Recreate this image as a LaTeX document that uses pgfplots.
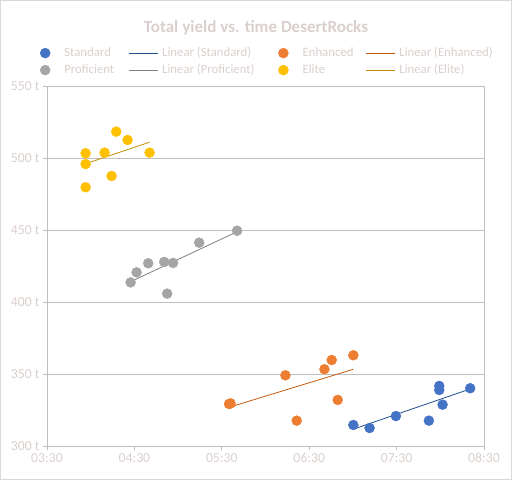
\documentclass[border=0pt]{standalone}
\usepackage{fontspec}
\setmainfont{Carlito}
\usepackage{pgfplots}
\pgfplotsset{compat=1.18}
\definecolor{txt}{HTML}{D9D0CD}
\definecolor{gridc}{HTML}{BFBFBF}
\definecolor{frame}{HTML}{D9D9D9}
\definecolor{cstd}{HTML}{4472C4}
\definecolor{cenh}{HTML}{ED7D31}
\definecolor{cpro}{HTML}{A5A5A5}
\definecolor{celi}{HTML}{FFC000}
\definecolor{tstd}{HTML}{1F4E8C}
\definecolor{tenh}{HTML}{C55A11}
\definecolor{tpro}{HTML}{7F7F7F}
\definecolor{teli}{HTML}{BF9000}
\pgfplotsset{
  dotleg/.style={legend image code/.code={\path (-8bp,0bp) (19bp,0bp); \draw[##1] plot coordinates {(0bp,0bp)};}},
  lineleg/.style={legend image code/.code={\path (0bp,0bp) (33bp,0bp); \draw[##1] (0bp,0bp) -- (29bp,0bp);}},
}
\begin{document}
\begin{tikzpicture}[x=1bp,y=1bp]
\useasboundingbox (0,0) rectangle (512,480);
\draw[frame, line width=1bp] (0.5,0.5) rectangle (511.5,479.5);
\begin{axis}[
  at={(47bp,34bp)}, anchor=south west, scale only axis,
  width=437bp, height=360bp,
  xmin=3.5, xmax=8.5, ymin=300, ymax=550,
  xtick={3.5,4.5,5.5,6.5,7.5,8.5},
  xticklabels={03:30,04:30,05:30,06:30,07:30,08:30},
  ytick={300,350,400,450,500,550},
  yticklabels={300 t,350 t,400 t,450 t,500 t,550 t},
  ymajorgrids, grid style={gridc, line width=0.8bp},
  axis line style={gridc, line width=0.8bp},
  tick style={gridc, line width=0.8bp},
  tick align=outside, major tick length=4bp,
  xtick pos=bottom, ytick pos=left,
  ticklabel style={font=\fontsize{13.8}{15}\selectfont, text=txt},
  legend columns=4,
  legend style={draw=none, fill=none, inner sep=0pt, outer sep=0pt,
    at={(-0.0229,1.108)}, anchor=north west,
    font=\fontsize{12.8}{15}\selectfont, text=txt,
    nodes={inner sep=0pt, text height=9bp, text depth=3bp},
    column sep=0pt, row sep=5bp},
  clip=false,
]
\addplot[only marks, mark=*, mark size=5bp, color=cstd, dotleg] coordinates {
 (7.005,314.6) (7.191,312.5) (7.492,320.8) (7.869,317.6) (7.988,341.7) (7.988,338.9) (8.026,328.7) (8.342,340.1)};
\addlegendentry{\makebox[64bp][l]{Standard}}
\addplot[tstd, line width=0.8bp, lineleg] coordinates {(7.0,311.6) (8.342,339.6)};
\addlegendentry{\makebox[113bp][l]{Linear (Standard)}}
\addplot[only marks, mark=*, mark size=5bp, color=cenh, dotleg] coordinates {
 (5.583,329.2) (5.60,329.6) (6.228,349.1) (6.357,317.6) (6.674,353.3) (6.757,359.7) (6.826,332) (7.005,363)};
\addlegendentry{\makebox[63bp][l]{Enhanced}}
\addplot[tenh, line width=0.8bp, lineleg] coordinates {(5.59,327) (7.005,353.3)};
\addlegendentry{\makebox[96bp][l]{Linear (Enhanced)}}
\addplot[only marks, mark=*, mark size=5bp, color=cpro, dotleg] coordinates {
 (4.457,413.6) (4.525,420.6) (4.658,426.9) (4.841,427.8) (4.943,427.1) (4.875,405.8) (5.241,441.2) (5.675,449.5)};
\addlegendentry{\makebox[64bp][l]{Proficient}}
\addplot[tpro, line width=0.8bp, lineleg] coordinates {(4.457,414.1) (5.675,448.8)};
\addlegendentry{\makebox[113bp][l]{Linear (Proficient)}}
\addplot[only marks, mark=*, mark size=5bp, color=celi, dotleg] coordinates {
 (3.942,503.3) (3.942,495.8) (3.942,479.7) (4.159,503.7) (4.239,487.5) (4.292,518.3) (4.422,512.5) (4.674,503.7)};
\addlegendentry{\makebox[63bp][l]{Elite}}
\addplot[teli, line width=0.8bp, lineleg] coordinates {(3.942,496) (4.674,511)};
\addlegendentry{\makebox[96bp][l]{Linear (Elite)}}
\draw[gridc, line width=0.8bp] (rel axis cs:0,1) -- (rel axis cs:1,1) -- (rel axis cs:1,0);
\end{axis}
\node[font=\bfseries\fontsize{17.1}{19}\selectfont, text=txt] at (256,452) {Total yield vs. time DesertRocks};
\end{tikzpicture}
\end{document}
